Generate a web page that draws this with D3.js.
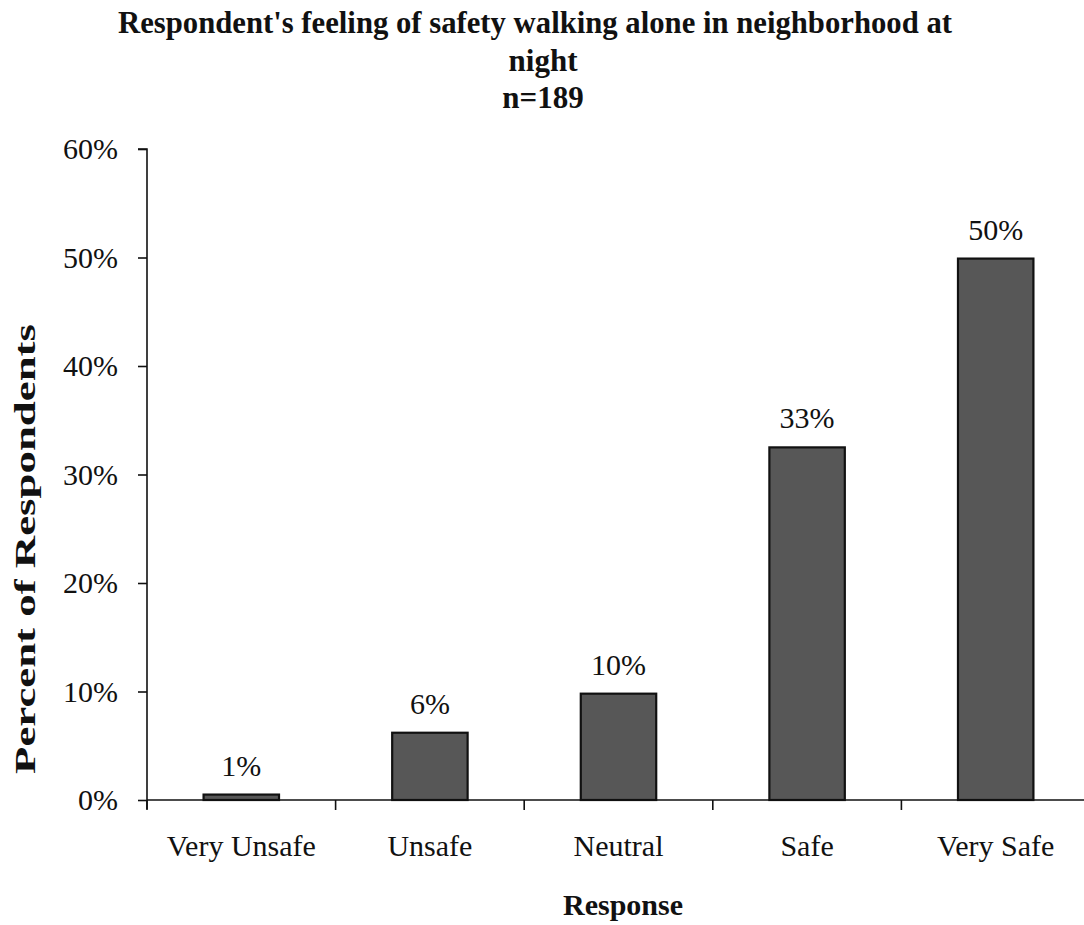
<!DOCTYPE html>
<html>
<head>
<meta charset="utf-8">
<script src="https://cdn.jsdelivr.net/npm/d3@7"></script>
<style>
  body { margin: 0; background: #fff; }
  svg { display: block; }
  text { font-family: "Liberation Serif", "Times New Roman", serif; fill: #111; }
</style>
</head>
<body>
<svg id="chart" width="1084" height="925"></svg>
<script>
const categories = ["Very Unsafe", "Unsafe", "Neutral", "Safe", "Very Safe"];
const values = [0.5, 6.2, 9.8, 32.5, 49.9];
const yTicks = [0, 10, 20, 30, 40, 50, 60];
const titleLines = ["Respondent's feeling of safety walking alone in neighborhood at", "night", "n=189"];
const xTitle = "Response";
const yTitle = "Percent of Respondents";

(function () {
const svg = d3.select("#chart");
const plotLeft = 147, plotRight = 1090, plotTop = 149, plotBottom = 800;

const x = d3.scaleBand().domain(categories).range([plotLeft, plotRight]).paddingInner(0.6).paddingOuter(0.3);
const y = d3.scaleLinear().domain([0, 60]).range([plotBottom, plotTop]);

// Title
const titleY = [33, 71, 108];
const titleX = [535, 543, 543];
svg.selectAll("text.title").data(titleLines).join("text")
  .attr("class", "title")
  .attr("x", (d, i) => titleX[i]).attr("y", (d, i) => titleY[i])
  .attr("text-anchor", "middle")
  .attr("font-size", 31).attr("font-weight", "bold")
  .each(function (d, i) {
    if (i === 0) d3.select(this).attr("textLength", 834).attr("lengthAdjust", "spacingAndGlyphs");
  })
  .text(d => d);

// Bars
svg.selectAll("rect.bar").data(values).join("rect")
  .attr("class", "bar")
  .attr("x", (d, i) => x(categories[i]))
  .attr("width", x.bandwidth())
  .attr("y", d => y(d))
  .attr("height", d => y(0) - y(d))
  .attr("fill", "#575757")
  .attr("stroke", "#111")
  .attr("stroke-width", 2.2);

// Data labels
svg.selectAll("text.val").data(values).join("text")
  .attr("class", "val")
  .attr("x", (d, i) => x(categories[i]) + x.bandwidth() / 2)
  .attr("y", d => y(d) - 19)
  .attr("text-anchor", "middle")
  .attr("font-size", 30)
  .text(d => Math.round(d) + "%");

// Y axis
const yAxis = d3.axisLeft(y).tickValues(yTicks).tickFormat(d => d + "%").tickSize(9).tickPadding(20);
const gy = svg.append("g").attr("transform", `translate(${plotLeft},0)`).call(yAxis);
gy.select(".domain").attr("stroke", "#111").attr("stroke-width", 1.6).attr("d", `M-9,${plotTop}H0V${plotBottom + 9}`);
gy.selectAll(".tick line").attr("stroke", "#111").attr("stroke-width", 1.6);
gy.selectAll(".tick text").attr("font-size", 30).attr("font-family", "Liberation Serif, serif").attr("fill", "#111");

// X axis
const boundaries = categories.map(c => x(c) - x.step() * x.paddingInner() / 2).concat([plotRight]);
const gx = svg.append("g").attr("transform", `translate(0,${plotBottom})`);
gx.append("path").attr("d", `M${plotLeft},0H${plotRight}`).attr("stroke", "#111").attr("stroke-width", 1.6).attr("fill", "none");
gx.selectAll("line.xt").data(boundaries).join("line")
  .attr("class", "xt")
  .attr("x1", d => d).attr("x2", d => d).attr("y1", 0).attr("y2", 10)
  .attr("stroke", "#111").attr("stroke-width", 1.6);
gx.selectAll("text.cat").data(categories).join("text")
  .attr("class", "cat")
  .attr("x", d => x(d) + x.bandwidth() / 2)
  .attr("y", 56)
  .attr("text-anchor", "middle")
  .attr("font-size", 30)
  .text(d => d);

// Axis titles
svg.append("text")
  .attr("x", 623).attr("y", 915)
  .attr("text-anchor", "middle")
  .attr("font-size", 30).attr("font-weight", "bold")
  .text(xTitle);

svg.append("text")
  .attr("transform", "translate(35,549) rotate(-90)")
  .attr("text-anchor", "middle")
  .attr("font-size", 29).attr("font-weight", "bold")
  .attr("textLength", 450).attr("lengthAdjust", "spacingAndGlyphs")
  .text(yTitle);
})();
</script>
</body>
</html>
